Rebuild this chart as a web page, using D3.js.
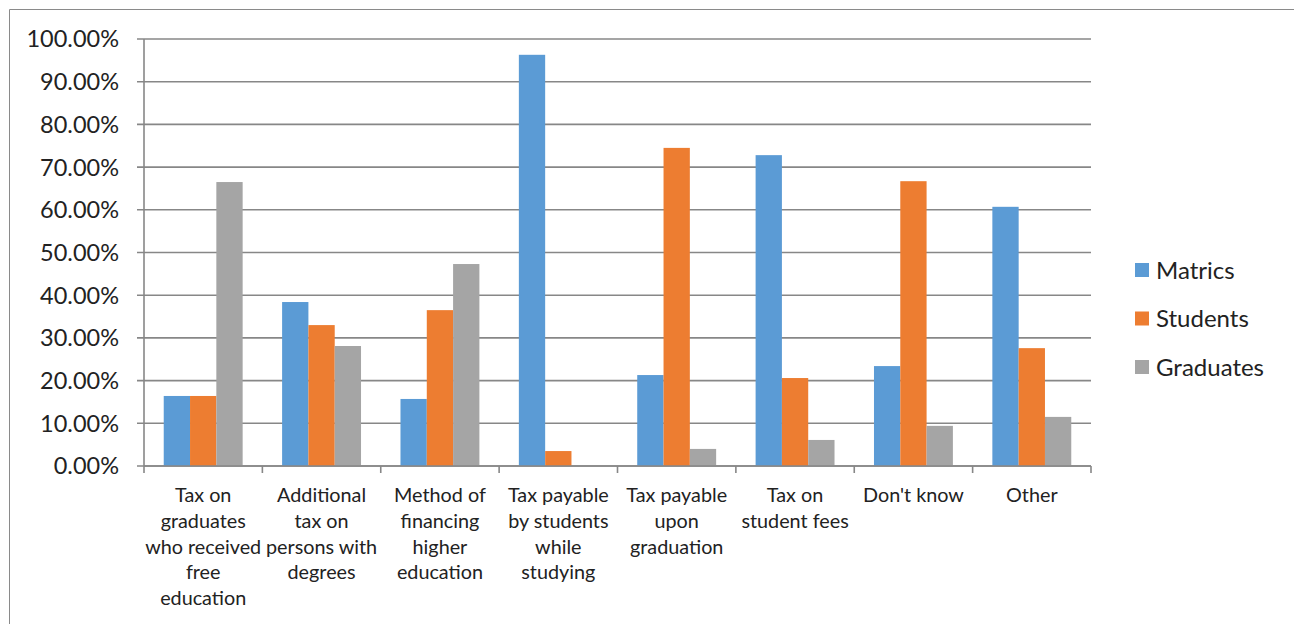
<!DOCTYPE html>
<html>
<head>
<meta charset="utf-8">
<script src="https://cdn.jsdelivr.net/npm/d3@7"></script>
<style>
  body { margin: 0; background: #fff; }
  svg text { font-family: Lato, "Open Sans", sans-serif; fill: #222; }
</style>
</head>
<body>
<div id="chart"></div>
<script>
// data (percent)
var categories = [
  "Tax on graduates who received free education",
  "Additional tax on persons with degrees",
  "Method of financing higher education",
  "Tax payable by students while studying",
  "Tax payable upon graduation",
  "Tax on student fees",
  "Don't know",
  "Other"
];
// how each label breaks into lines, like in the picture
var labelLines = [
  ["Tax on", "graduates", "who received", "free", "education"],
  ["Additional", "tax on", "persons with", "degrees"],
  ["Method of", "financing", "higher", "education"],
  ["Tax payable", "by students", "while", "studying"],
  ["Tax payable", "upon", "graduation"],
  ["Tax on", "student fees"],
  ["Don't know"],
  ["Other"]
];
var seriesNames = ["Matrics", "Students", "Graduates"];
var matrics   = [16.4, 38.4, 15.7, 96.3, 21.3, 72.8, 23.4, 60.7];
var students  = [16.4, 33.0, 36.5, 3.5, 74.5, 20.6, 66.7, 27.6];
var graduates = [66.5, 28.1, 47.3, 0, 4.0, 6.1, 9.4, 11.5];
var yTicks = [0, 10, 20, 30, 40, 50, 60, 70, 80, 90, 100];

var colors = ["#5b9bd5", "#ed7d31", "#a5a5a5"];
var allSeries = [matrics, students, graduates];

var W = 1294, H = 624;
var margin = { top: 39, left: 144, right: 1294 - 1091, bottom: 624 - 466 };

var svg = d3.select("#chart").append("svg")
  .attr("width", W)
  .attr("height", H);

// chart border (only top and left edges show)
svg.append("path")
  .attr("d", "M9.5,624V9.5H1294")
  .attr("fill", "none")
  .attr("stroke", "#8a8a8a")
  .attr("stroke-width", 1);

var x = d3.scaleBand()
  .domain(d3.range(categories.length))
  .range([margin.left, W - margin.right])
  .paddingInner(0)
  .paddingOuter(0);

// Excel gap width 150%: 3 bars + 1.5 bar of gap per band
var barW = x.bandwidth() / 4.5;

var y = d3.scaleLinear()
  .domain([0, 100])
  .range([H - margin.bottom, margin.top]);

// gridlines
svg.append("g")
  .selectAll("line")
  .data(yTicks)
  .enter()
  .append("line")
    .attr("x1", margin.left - 7)
    .attr("x2", W - margin.right)
    .attr("y1", d => y(d))
    .attr("y2", d => y(d))
    .attr("stroke", "#878787")
    .attr("stroke-width", 1.6);

// y labels
svg.append("g")
  .selectAll("text")
  .data(yTicks)
  .enter()
  .append("text")
    .attr("x", 119)
    .attr("y", d => y(d))
    .attr("dy", "0.36em")
    .attr("text-anchor", "end")
    .style("font-size", "23.5px")
    .text(d => d.toFixed(2) + "%");

// bars
var groups = svg.append("g")
  .selectAll("g")
  .data(allSeries)
  .enter()
  .append("g")
    .attr("fill", (d, i) => colors[i]);

groups.each(function(vals, si) {
  d3.select(this).selectAll("rect")
    .data(vals)
    .enter()
    .append("rect")
      .attr("x", (d, ci) => x(ci) + barW * 0.75 + si * barW)
      .attr("width", barW)
      .attr("y", d => y(d))
      .attr("height", d => y(0) - y(d));
});

// y axis line
svg.append("line")
  .attr("x1", margin.left).attr("x2", margin.left)
  .attr("y1", y(100)).attr("y2", y(0))
  .attr("stroke", "#878787")
  .attr("stroke-width", 1.6);

// x axis line + category ticks
svg.append("line")
  .attr("x1", margin.left).attr("x2", W - margin.right)
  .attr("y1", y(0)).attr("y2", y(0))
  .attr("stroke", "#878787")
  .attr("stroke-width", 1.6);

svg.append("g")
  .selectAll("line")
  .data(d3.range(categories.length + 1))
  .enter()
  .append("line")
    .attr("x1", i => i < categories.length ? x(i) : W - margin.right)
    .attr("x2", i => i < categories.length ? x(i) : W - margin.right)
    .attr("y1", y(0))
    .attr("y2", y(0) + 7)
    .attr("stroke", "#878787")
    .attr("stroke-width", 1.6);

// category labels
var labels = svg.append("g")
  .selectAll("text")
  .data(labelLines)
  .enter()
  .append("text")
    .attr("text-anchor", "middle")
    .style("font-size", "19.8px")
    .attr("transform", (d, i) => "translate(" + (x(i) + x.bandwidth() / 2) + ",495)");

labels.selectAll("tspan")
  .data(d => d)
  .enter()
  .append("tspan")
    .attr("x", 0)
    .attr("y", (d, i) => i * 25.8)
    .attr("dy", "0.35em")
    .text(d => d);

// legend
var legend = svg.append("g")
  .selectAll("g")
  .data(seriesNames)
  .enter()
  .append("g")
    .attr("transform", (d, i) => "translate(1135," + (270 + i * 48.5) + ")");

legend.append("rect")
  .attr("x", 0)
  .attr("y", -7)
  .attr("width", 14)
  .attr("height", 14)
  .attr("fill", (d, i) => colors[i]);

legend.append("text")
  .attr("x", 21)
  .attr("dy", "0.36em")
  .style("font-size", "24px")
  .text(d => d);
</script>
</body>
</html>
